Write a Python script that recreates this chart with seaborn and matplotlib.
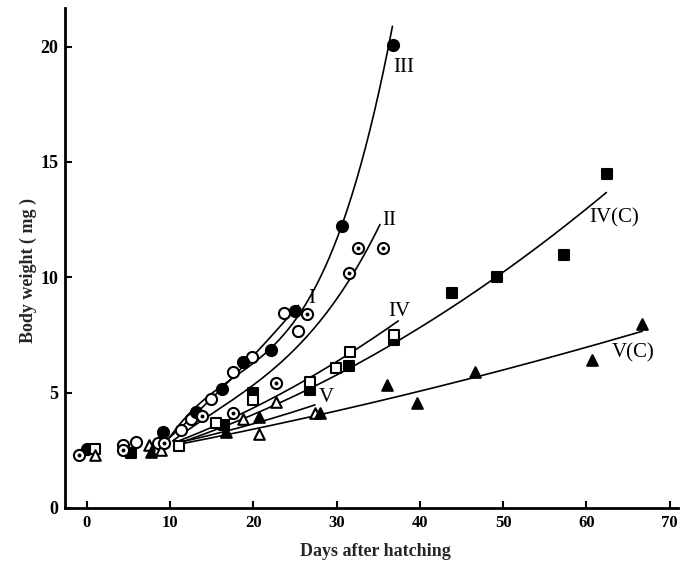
import numpy as np
import pandas as pd
import matplotlib
matplotlib.use("Agg")
import matplotlib.pyplot as plt
import seaborn as sns

# ---- observed body weights (mg) by day after hatching ----
I_days = [4.3, 5.9, 8.5, 11.3, 12.5, 14.9, 17.5, 19.8, 23.7, 25.4]
I_wt = [2.73, 2.88, 2.81, 3.38, 3.84, 4.72, 5.91, 6.54, 8.44, 7.69]

II_days = [-1.0, 4.3, 9.3, 13.8, 17.6, 22.7, 26.4, 31.5, 32.6, 35.6]
II_wt = [2.30, 2.52, 2.83, 3.99, 4.13, 5.43, 8.41, 10.20, 11.26, 11.27]

III_days = [0.0, 9.2, 13.1, 16.2, 18.8, 22.1, 25.0, 30.7, 36.8]
III_wt = [2.55, 3.30, 4.18, 5.14, 6.34, 6.83, 8.54, 12.23, 20.07]

IV_days = [1.0, 11.1, 15.5, 19.9, 26.8, 29.9, 31.6, 36.9]
IV_wt = [2.55, 2.69, 3.67, 4.69, 5.47, 6.06, 6.77, 7.50]

IVC_days = [5.3, 16.5, 19.9, 26.8, 31.5, 36.9, 43.8, 49.3, 57.3, 62.5]
IVC_wt = [2.40, 3.60, 4.97, 5.11, 6.16, 7.28, 9.33, 10.00, 10.96, 14.47]

V_days = [1.0, 7.5, 8.9, 18.7, 20.7, 22.7, 27.4]
V_wt = [2.30, 2.73, 2.52, 3.84, 3.20, 4.61, 4.11]

VC_days = [7.7, 16.7, 20.7, 28.0, 36.0, 39.7, 46.6, 60.7, 66.7]
VC_wt = [2.44, 3.30, 3.96, 4.11, 5.33, 4.57, 5.91, 6.42, 7.98]

# ---- growth curves (points along each fitted curve) ----
III_curve_days = [9.5, 13, 16.5, 20, 25.4, 28.2, 30.7, 32.9, 34.4, 35.8, 36.7]
III_curve_wt = [3.06, 4.01, 5.20, 6.45, 8.59, 10.38, 12.27, 14.55, 16.54, 19.13, 21.42]
I_curve_days = [9.8, 13, 16.5, 20, 25.4]
I_curve_wt = [3.01, 4.06, 5.30, 6.60, 8.78]
II_curve_days = [10.3, 15.5, 19.9, 23.5, 27.4, 31.0, 33.8, 35.2]
II_curve_wt = [2.87, 4.32, 5.25, 6.27, 7.86, 9.74, 11.18, 12.31]
IV_curve_days = [10.5, 19.5, 25.4, 29.0, 32.6, 37.4]
IV_curve_wt = [2.84, 4.25, 5.33, 6.13, 6.99, 8.08]
IVC_curve_days = [10.5, 19.5, 26.6, 31.4, 37.0, 43.4, 49.3, 55.3, 62.4]
IVC_curve_wt = [2.82, 3.81, 5.11, 6.13, 7.35, 8.51, 9.96, 11.62, 13.71]
V_curve_days = [10.5, 19.5, 27.4]
V_curve_wt = [2.80, 3.60, 4.47]
VC_curve_days = [10.5, 19.5, 35.4, 43.4, 49.3, 66.7]
VC_curve_wt = [2.77, 3.30, 4.69, 5.33, 5.98, 7.64]

curve_labels = ["III", "II", "I", "IV", "V", "IV(C)", "V(C)"]
label_days = [38.0, 36.3, 27.0, 37.5, 28.7, 63.3, 65.6]
label_wt = [19.07, 12.48, 9.10, 8.50, 4.77, 12.57, 6.72]

x_ticks = [0, 10, 20, 30, 40, 50, 60, 70]
y_ticks = [0, 5, 10, 15, 20]

sns.set_theme(style="ticks")
plt.rcParams["font.family"] = ["Liberation Serif", "DejaVu Serif"]

fig = plt.figure(figsize=(6.8, 5.65), dpi=100)
ax = fig.add_axes([65 / 680, 57 / 565, 613 / 680, 500 / 565])

# smooth growth curves
curves = [
    (III_curve_days, III_curve_wt, 3),
    (I_curve_days, I_curve_wt, 2),
    (II_curve_days, II_curve_wt, 3),
    (IV_curve_days, IV_curve_wt, 2),
    (IVC_curve_days, IVC_curve_wt, 2),
    (V_curve_days, V_curve_wt, 2),
    (VC_curve_days, VC_curve_wt, 2),
]
for cd, cw, deg in curves:
    coef = np.polyfit(cd, cw, deg)
    xs = np.linspace(cd[0], cd[-1], 200)
    sns.lineplot(x=xs, y=np.polyval(coef, xs), ax=ax, color="black",
                 linewidth=1.2, sort=False, estimator=None)

ms = 64
edge = 1.5
# open circles (I)
sns.scatterplot(x=I_days, y=I_wt, ax=ax, marker="o", s=ms, facecolor="white",
                edgecolor="black", linewidth=edge, zorder=5)
# filled circles (III)
sns.scatterplot(x=III_days, y=III_wt, ax=ax, marker="o", s=ms, color="black",
                edgecolor="black", linewidth=edge, zorder=5)
# dotted circles (II)
sns.scatterplot(x=II_days, y=II_wt, ax=ax, marker="o", s=ms, facecolor="white",
                edgecolor="black", linewidth=edge, zorder=6)
sns.scatterplot(x=II_days, y=II_wt, ax=ax, marker="o", s=8, color="black",
                edgecolor="black", linewidth=0, zorder=7)
# open squares (IV)
sns.scatterplot(x=IV_days, y=IV_wt, ax=ax, marker="s", s=54, facecolor="white",
                edgecolor="black", linewidth=edge, zorder=5)
# filled squares (IV(C))
sns.scatterplot(x=IVC_days, y=IVC_wt, ax=ax, marker="s", s=54, color="black",
                edgecolor="black", linewidth=edge, zorder=4)
# open triangles (V)
sns.scatterplot(x=V_days, y=V_wt, ax=ax, marker="^", s=58, facecolor="white",
                edgecolor="black", linewidth=edge, zorder=5)
# filled triangles (V(C))
sns.scatterplot(x=VC_days, y=VC_wt, ax=ax, marker="^", s=58, color="black",
                edgecolor="black", linewidth=edge, zorder=5)

for lab, lx, ly in zip(curve_labels, label_days, label_wt):
    ax.text(lx, ly, lab, fontsize=15, ha="center", va="center", color="black")

ax.set_xlim(-2.63, 71.0)
ax.set_ylim(0, 21.67)
ax.set_xticks(x_ticks)
ax.set_yticks(y_ticks)
ax.set_xticklabels([str(t) for t in x_ticks], fontsize=12, fontweight="bold")
ax.set_yticklabels([str(t) for t in y_ticks], fontsize=13, fontweight="bold")
ax.tick_params(direction="in", length=5, width=1.5, colors="black", pad=5)

for side in ["top", "right"]:
    ax.spines[side].set_visible(False)
for side in ["left", "bottom"]:
    ax.spines[side].set_linewidth(2.0)
    ax.spines[side].set_color("black")

ax.set_xlabel("Days after hatching", fontsize=13, fontweight="bold")
ax.xaxis.set_label_coords(0.506, -0.07)
ax.set_ylabel("Body weight ( mg )", fontsize=13, fontweight="bold")
ax.yaxis.set_label_coords(-0.045, 0.475)

fig.savefig("out.png", dpi=100, facecolor="white")
